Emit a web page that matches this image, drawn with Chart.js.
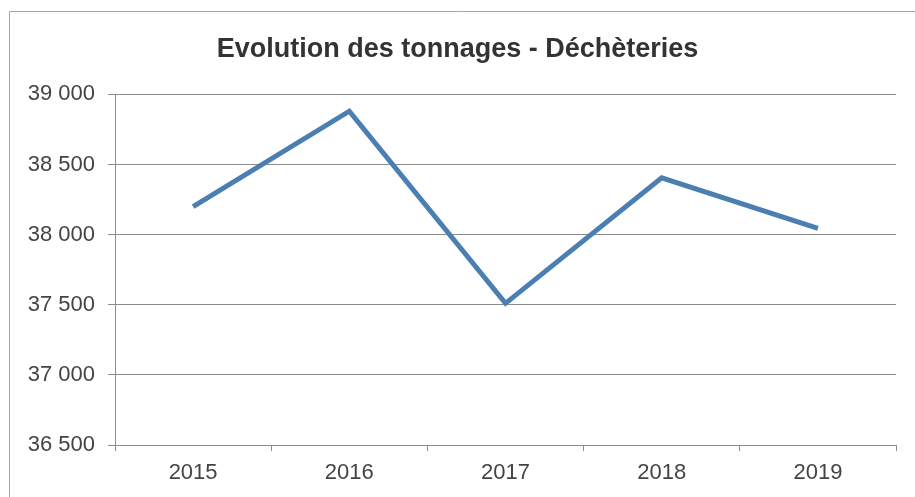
<!DOCTYPE html>
<html>
<head>
<meta charset="utf-8">
<script src="https://cdn.jsdelivr.net/npm/chart.js@4/dist/chart.umd.min.js"></script>
<style>
    html, body { margin: 0; padding: 0; background: #fff; }
    #wrap { width: 915px; height: 497px; position: relative; }
</style>
</head>
<body>
<div id="wrap"><canvas id="chartCanvas" width="915" height="497"></canvas></div>
<script>
const years = ["2015", "2016", "2017", "2018", "2019"];
const tonnages = [38200, 38880, 37510, 38405, 38045];
const yTicks = [36500, 37000, 37500, 38000, 38500, 39000];

// thousands with a plain space: 38 500
function formatTonnes(v) {
    return String(v).replace(/\B(?=(\d{3})+(?!\d))/g, " ");
}

const framePlugin = {
    id: 'frame',
    beforeDraw(chart) {
        const ctx = chart.ctx;
        ctx.save();
        ctx.fillStyle = '#fff';
        ctx.fillRect(0, 0, chart.width, chart.height);
        ctx.strokeStyle = '#a6a6a6';
        ctx.lineWidth = 1;
        ctx.beginPath();
        ctx.moveTo(9.5, chart.height);
        ctx.lineTo(9.5, 11.5);
        ctx.lineTo(chart.width, 11.5);
        ctx.stroke();
        ctx.restore();
    }
};

const ctx = document.getElementById('chartCanvas').getContext('2d');

new Chart(ctx, {
    type: 'line',
    data: {
        labels: years,
        datasets: [{
            label: "Tonnages",
            data: tonnages,
            borderColor: '#4b7fb2',
            borderWidth: 5,
            pointRadius: 0,
            tension: 0,
            fill: false
        }]
    },
    options: {
        responsive: false,
        animation: false,
        layout: { padding: { left: 19, right: 19, top: 0, bottom: 0 } },
        plugins: {
            legend: { display: false },
            tooltip: { enabled: false },
            title: {
                display: true,
                text: "Evolution des tonnages - Déchèteries",
                color: '#333',
                font: { family: 'Liberation Sans, Arial, sans-serif', size: 27, weight: 'bold', lineHeight: 1.2 },
                padding: { top: 33, bottom: 29 }
            }
        },
        scales: {
            x: {
                offset: true,
                grid: {
                    offset: true,
                    drawOnChartArea: false,
                    drawTicks: true,
                    tickLength: 6,
                    color: '#8c8c8c'
                },
                border: { display: true, color: '#8c8c8c' },
                ticks: {
                    color: '#444',
                    padding: 9,
                    maxRotation: 0,
                    font: { family: 'Liberation Sans, Arial, sans-serif', size: 22 }
                },
                afterFit(scale) { scale.height = 52; }
            },
            y: {
                min: 36500,
                max: 39000,
                afterBuildTicks(scale) {
                    scale.ticks = yTicks.map(v => ({ value: v }));
                },
                grid: {
                    color: '#8c8c8c',
                    tickLength: 7
                },
                border: { display: true, color: '#8c8c8c' },
                ticks: {
                    color: '#444',
                    padding: 13,
                    font: { family: 'Liberation Sans, Arial, sans-serif', size: 22 },
                    callback: v => formatTonnes(v)
                },
                afterFit(scale) { scale.width = 96; }
            }
        }
    },
    plugins: [framePlugin]
});
</script>
</body>
</html>
